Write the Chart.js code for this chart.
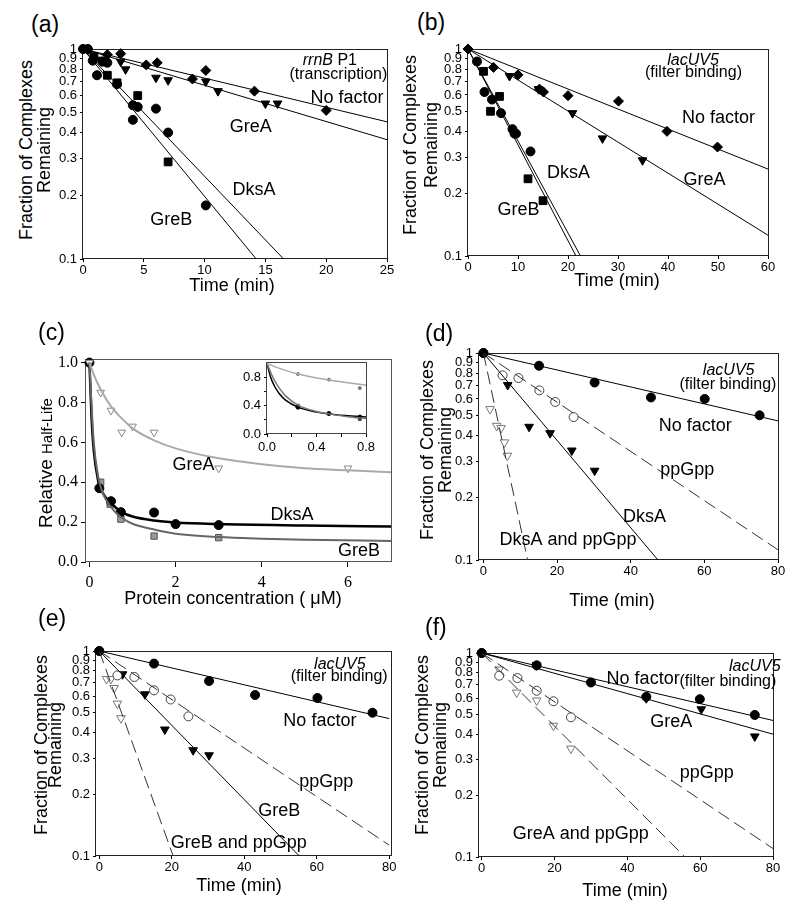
<!DOCTYPE html>
<html>
<head>
<meta charset="utf-8">
<script src="https://cdn.jsdelivr.net/npm/chart.js@4.4.1/dist/chart.umd.min.js"></script>
<style>
  body { margin: 0; background: #fff; width: 800px; height: 909px; position: relative; overflow: hidden;
         font-family: "Liberation Sans", Arial, sans-serif; color: #000; }
  .t { position: absolute; white-space: nowrap; transform: translate(-50%, -50%); font-size: 18px; line-height: 1; }
  .v { transform: translate(-50%, -50%) rotate(-90deg); }
  .lbl { position: absolute; font-size: 23px; transform: translateY(-50%); line-height: 1; }
</style>
</head>
<body>
<script>
const FONT = '"Liberation Sans", Arial, sans-serif';
const SERIF = '"Liberation Serif", "Times New Roman", serif';

// shared tick values
const logTicks = [0.1, 0.2, 0.3, 0.4, 0.5, 0.6, 0.7, 0.8, 0.9, 1];
const timeTicks80 = [0, 20, 40, 60, 80];

// (a) rrnB P1, transcription
const aTimeTicks = [0, 5, 10, 15, 20, 25];
const aNoFactor = [[0, 1], [0.4, 1], [2, 0.94], [3.1, 0.95], [5.2, 0.84], [6.1, 0.86], [9, 0.72], [10.1, 0.79], [14.1, 0.63], [20, 0.51]];
const aGreA = [[1.4, 0.89], [3.1, 0.87], [3.5, 0.8], [6, 0.73], [7, 0.71], [10.1, 0.7], [11.1, 0.63], [15, 0.55], [16, 0.55]];
const aDksA = [[0, 1], [0.4, 1], [0.8, 0.88], [1.15, 0.75], [1.6, 0.87], [2, 0.86], [2.8, 0.68], [4.1, 0.54], [4.1, 0.46], [4.5, 0.53], [6, 0.52], [7, 0.4], [10.1, 0.18]];
const aGreB = [[0.9, 0.92], [2, 0.75], [2.8, 0.69], [4.5, 0.6], [7, 0.29]];
const aFitNoFactor = [[0, 1], [25, 0.45]];
const aFitGreA = [[0, 1], [25, 0.37]];
const aFitDksA = [[0, 1], [16.5, 0.1]];
const aFitGreB = [[0, 1], [14.25, 0.1]];

// (b) lacUV5, filter binding
const bTimeTicks = [0, 10, 20, 30, 40, 50, 60];
const bNoFactor = [[0, 1], [5.1, 0.815], [10, 0.75], [14.3, 0.64], [15.1, 0.62], [20, 0.595], [30.1, 0.56], [39.8, 0.4], [49.9, 0.336]];
const bGreA = [[8.3, 0.74], [14.1, 0.64], [20.9, 0.49], [26.9, 0.37], [34.9, 0.29]];
const bDksA = [[1.8, 0.87], [3.3, 0.62], [4.8, 0.57], [6.6, 0.49], [8.9, 0.41], [9.3, 0.39], [9.6, 0.39], [12.5, 0.32]];
const bGreB = [[3.1, 0.78], [4.5, 0.5], [6.3, 0.59], [12, 0.236], [15, 0.185]];
const bFitNoFactor = [[0, 1], [60, 0.263]];
const bFitGreA = [[0, 1], [60, 0.126]];
const bFitDksA = [[0, 1], [22.5, 0.1]];
const bFitGreB = [[0, 1], [21.6, 0.1]];

// (c) relative half-life vs protein concentration
const cConcTicks = [0, 2, 4, 6];
const cHalfTicks = [0, 0.2, 0.4, 0.6, 0.8, 1.0];
const cGreA = [[0, 1], [0.26, 0.85], [0.5, 0.76], [0.75, 0.65], [1, 0.68], [1.5, 0.65], [3, 0.47], [6, 0.47]];
const cDksA = [[0, 1], [0.23, 0.37], [0.5, 0.305], [0.73, 0.25], [1.5, 0.248], [2, 0.19], [3, 0.185]];
const cGreB = [[0, 1], [0.26, 0.4], [0.48, 0.29], [0.73, 0.215], [1.5, 0.13], [3, 0.122]];
const cCurveGreA = [[0, 1], [0.1, 0.94], [0.25, 0.87], [0.5, 0.78], [0.75, 0.72], [1, 0.67], [1.5, 0.61], [2, 0.57], [3, 0.52], [4, 0.49], [5, 0.47], [6, 0.46], [7, 0.45]];
const cCurveDksA = [[0, 1], [0.05, 0.72], [0.1, 0.56], [0.2, 0.41], [0.3, 0.35], [0.5, 0.295], [0.75, 0.25], [1, 0.228], [1.5, 0.208], [2, 0.198], [3, 0.19], [5, 0.183], [7, 0.178]];
const cCurveGreB = [[0, 1], [0.05, 0.78], [0.1, 0.6], [0.2, 0.43], [0.3, 0.35], [0.5, 0.275], [0.75, 0.222], [1, 0.192], [1.5, 0.163], [2, 0.142], [3, 0.125], [4, 0.117], [5, 0.112], [7, 0.105]];
// inset of (c)
const insetTicks = [0, 0.2, 0.4, 0.6, 0.8];
const insetGreA = [[0.25, 0.85], [0.5, 0.77], [0.75, 0.65]];
const insetDksA = [[0.25, 0.38], [0.5, 0.29], [0.75, 0.24]];
const insetGreB = [[0.25, 0.4], [0.5, 0.29], [0.75, 0.21]];
const insetCurveGreA = [[0, 1], [0.1, 0.93], [0.25, 0.85], [0.5, 0.765], [0.8, 0.69]];
const insetCurveDksA = [[0, 1], [0.03, 0.8], [0.06, 0.68], [0.1, 0.57], [0.15, 0.48], [0.25, 0.38], [0.4, 0.31], [0.5, 0.285], [0.65, 0.26], [0.8, 0.24]];
const insetCurveGreB = [[0, 1], [0.03, 0.87], [0.06, 0.76], [0.1, 0.65], [0.15, 0.54], [0.25, 0.41], [0.4, 0.32], [0.5, 0.285], [0.65, 0.245], [0.8, 0.22]];

// (d) DksA + ppGpp
const dNoFactor = [[0, 1], [15.1, 0.868], [30.2, 0.72], [45.5, 0.61], [60.1, 0.6], [75, 0.5]];
const dPpGpp = [[0, 1], [5.2, 0.78], [9.5, 0.757], [15.2, 0.66], [19.5, 0.58], [24.5, 0.49]];
const dDksA = [[6.6, 0.7], [12.4, 0.44], [18.1, 0.41], [24, 0.338], [30.2, 0.27]];
const dBoth = [[1.8, 0.536], [3.6, 0.445], [4.8, 0.434], [5.7, 0.37], [6.5, 0.319]];
const dFitNoFactor = [[0, 1], [80, 0.47]];
const dFitPpGpp = [[0, 1], [80, 0.112]];
const dFitDksA = [[0, 1], [47.4, 0.1]];
const dFitBoth = [[0, 1], [12, 0.1]];

// (e) GreB + ppGpp
const eNoFactor = [[0, 1], [15.1, 0.868], [30.3, 0.714], [43, 0.61], [60.2, 0.59], [75.4, 0.5]];
const ePpGpp = [[0, 1], [5, 0.76], [9.7, 0.747], [15.1, 0.643], [19.7, 0.58], [24.6, 0.48]];
const eGreB = [[6.4, 0.77], [12.6, 0.615], [18.1, 0.414], [25.9, 0.328], [30.3, 0.31]];
const eBoth = [[2, 0.73], [3.2, 0.73], [4.1, 0.66], [5, 0.554], [6, 0.47]];
const eFitNoFactor = [[0, 1], [80, 0.468]];
const eFitPpGpp = [[0, 1], [80, 0.113]];
const eFitGreB = [[0, 1], [55.2, 0.1]];
const eFitBoth = [[0, 1], [20.4, 0.1]];

// (f) GreA + ppGpp
const fNoFactor = [[0, 1], [15.1, 0.87], [30, 0.717], [45.2, 0.61], [59.9, 0.594], [75, 0.497]];
const fGreA = [[15, 0.87], [45.2, 0.6], [60.3, 0.53], [75, 0.39]];
const fPpGpp = [[0, 1], [4.8, 0.774], [9.8, 0.754], [15.1, 0.653], [19.7, 0.58], [24.5, 0.484]];
const fBoth = [[4.8, 0.83], [9.6, 0.64], [15.1, 0.585], [19.7, 0.44], [24.5, 0.34]];
const fFitNoFactor = [[0, 1], [80, 0.467]];
const fFitGreA = [[0, 1], [80, 0.4]];
const fFitPpGpp = [[0, 1], [80, 0.11]];
const fFitBoth = [[0, 1], [55.8, 0.1]];

const pts = arr => arr.map(([x, y]) => ({ x, y }));

function marks(data, style, r, fill, edge, rot) {
    return { data: pts(data), pointStyle: style, pointRadius: r, pointRotation: rot || 0,
             backgroundColor: fill, borderColor: edge, pointBorderWidth: 1, showLine: false, clip: false };
}
function fit(data, color, width, dash, smooth) {
    return { data: pts(data), showLine: true, borderColor: color, borderWidth: width, borderDash: dash || [],
             pointRadius: 0, fill: false, clip: false, tension: smooth ? 0.4 : 0,
             cubicInterpolationMode: smooth ? 'monotone' : 'default' };
}

// frame round the plot area + text notes placed in data units
const framePlugin = {
    id: 'frame',
    beforeDatasetsDraw(chart, args, o) {
        const { ctx, chartArea: a } = chart;
        ctx.save();
        ctx.strokeStyle = o.color || '#222';
        ctx.lineWidth = 1;
        ctx.strokeRect(Math.round(a.left) - 0.5, Math.round(a.top) + 0.5, Math.round(a.width) + 1, Math.round(a.height) - 1);
        ctx.restore();
    },
    afterDatasetsDraw(chart, args, o) {
        const { ctx, scales } = chart;
        ctx.save();
        ctx.textBaseline = 'middle';
        ctx.textAlign = 'left';
        ctx.fillStyle = '#000';
        (o.notes || []).forEach(n => {
            const px = scales.x.getPixelForValue(n.x), py = scales.y.getPixelForValue(n.y);
            const size = n.size || 18;
            const fonts = n.parts.map(p => (p[1] ? 'italic ' : '') + size + 'px ' + FONT);
            let total = 0;
            const ws = n.parts.map((p, i) => { ctx.font = fonts[i]; const w = ctx.measureText(p[0]).width; total += w; return w; });
            let cx = n.align === 'center' ? px - total / 2 : px;
            n.parts.forEach((p, i) => { ctx.font = fonts[i]; ctx.fillText(p[0], cx, py); cx += ws[i]; });
        });
        ctx.restore();
    }
};

function panel(p) {
    const yW = p.yW || 40, xH = p.xH || 24, pt = 12, pr = 16;
    const [L, T, R, B] = p.box;
    const w = R - L + yW + pr, h = B - T + pt + xH;
    const cv = document.createElement('canvas');
    cv.width = w; cv.height = h;
    cv.style.cssText = `position:absolute;left:${L - yW}px;top:${T - pt}px;width:${w}px;height:${h}px`;
    document.body.appendChild(cv);
    const tickFont = p.tickFont || { family: FONT, size: 13 };
    const axisCommon = {
        border: { display: false },
        grid: { drawOnChartArea: false, drawTicks: true, tickLength: p.tickLen || 3, color: '#000' },
    };
    return new Chart(cv, {
        type: 'scatter',
        data: { datasets: p.datasets },
        plugins: [framePlugin],
        options: {
            responsive: false, animation: false, events: [],
            layout: { padding: { top: pt, right: pr, left: 0, bottom: 0 } },
            plugins: { legend: { display: false }, tooltip: { enabled: false },
                       frame: { color: p.frameColor || '#222', notes: p.notes || [] } },
            scales: {
                x: Object.assign({}, axisCommon, {
                    type: 'linear', min: p.x.min, max: p.x.max,
                    afterBuildTicks: s => { s.ticks = p.x.ticks.map(v => ({ value: v })); },
                    afterFit: s => { s.height = xH; },
                    ticks: { font: tickFont, color: '#000', padding: p.xPad || 1, maxRotation: 0, autoSkip: false,
                             callback: p.x.label || (v => String(v)) }
                }),
                y: Object.assign({}, axisCommon, {
                    type: p.y.log ? 'logarithmic' : 'linear', min: p.y.min, max: p.y.max,
                    afterBuildTicks: s => { s.ticks = p.y.ticks.map(v => ({ value: v })); },
                    afterFit: s => { s.width = yW; },
                    ticks: { font: tickFont, color: '#000', padding: 3, autoSkip: false,
                             callback: p.y.label || (v => String(v)) }
                })
            }
        }
    });
}

function txt(html, x, y, size, vertical) {
    const d = document.createElement('div');
    d.className = 't' + (vertical ? ' v' : '');
    d.style.left = x + 'px'; d.style.top = y + 'px';
    if (size) d.style.fontSize = size + 'px';
    d.innerHTML = html;
    document.body.appendChild(d);
}
function letter(s, x, y) {
    const d = document.createElement('div');
    d.className = 'lbl';
    d.style.left = x + 'px'; d.style.top = y + 'px';
    d.textContent = s;
    document.body.appendChild(d);
}

const logY = { log: true, min: 0.1, max: 1, ticks: logTicks };
const BLK = '#000', GRY = '#777';
const dash = [13, 6];

// ---- (a)
panel({
    box: [83, 49, 387, 259], x: { min: 0, max: 25, ticks: aTimeTicks }, y: logY,
    datasets: [
        fit(aFitNoFactor, BLK, 1), fit(aFitGreA, BLK, 1), fit(aFitDksA, BLK, 1), fit(aFitGreB, BLK, 1),
        marks(aNoFactor, 'rectRot', 5, BLK, BLK),
        marks(aGreA, 'triangle', 5, BLK, BLK, 180),
        marks(aDksA, 'circle', 4.5, BLK, BLK),
        marks(aGreB, 'rect', 5.5, BLK, BLK)
    ],
    notes: [
        { x: 20.3, y: 0.88, parts: [['rrnB', true], [' P1']], size: 16, align: 'center' },
        { x: 21.0, y: 0.755, parts: [['(transcription)']], size: 16, align: 'center' },
        { x: 18.7, y: 0.585, parts: [['No factor']] },
        { x: 12.06, y: 0.424, parts: [['GreA']] },
        { x: 12.3, y: 0.214, parts: [['DksA']] },
        { x: 5.54, y: 0.154, parts: [['GreB']] }
    ]
});
letter('(a)', 31, 24);
txt('Time (min)', 232, 285);
txt('Fraction of Complexes', 26, 150, 18, true);
txt('Remaining', 44, 150, 18, true);

// ---- (b)
panel({
    box: [468, 49, 768, 256], x: { min: 0, max: 60, ticks: bTimeTicks }, y: logY,
    datasets: [
        fit(bFitNoFactor, BLK, 1), fit(bFitGreA, BLK, 1), fit(bFitDksA, BLK, 1), fit(bFitGreB, BLK, 1),
        marks(bNoFactor, 'rectRot', 5, BLK, BLK),
        marks(bGreA, 'triangle', 5, BLK, BLK, 180),
        marks(bDksA, 'circle', 4.5, BLK, BLK),
        marks(bGreB, 'rect', 5.5, BLK, BLK)
    ],
    notes: [
        { x: 45, y: 0.878, parts: [['lacUV5', true]], size: 16, align: 'center' },
        { x: 45.1, y: 0.77, parts: [['(filter binding)']], size: 16, align: 'center' },
        { x: 42.8, y: 0.464, parts: [['No factor']] },
        { x: 43.1, y: 0.233, parts: [['GreA']] },
        { x: 15.8, y: 0.251, parts: [['DksA']] },
        { x: 5.9, y: 0.167, parts: [['GreB']] }
    ]
});
letter('(b)', 417, 22);
txt('Time (min)', 617, 280);
txt('Fraction of Complexes', 410, 145, 18, true);
txt('Remaining', 431, 145, 18, true);

// ---- (c)
const serifTicks = { family: SERIF, size: 16 };
panel({
    box: [86, 358, 391, 562], x: { min: -0.08, max: 7, ticks: cConcTicks },
    y: { min: 0, max: 1.02, ticks: cHalfTicks, label: v => v.toFixed(1) },
    tickFont: serifTicks, tickLen: 5, xPad: 6, xH: 32, frameColor: '#555',
    datasets: [
        fit(cCurveGreA, '#aaa', 2, null, true),
        fit(cCurveGreB, '#666', 2, null, true),
        fit(cCurveDksA, '#000', 2.5, null, true),
        marks(cGreA, 'triangle', 4.5, '#fff', '#888', 180),
        marks(cDksA, 'circle', 4.5, '#000', '#000'),
        marks(cGreB, 'rect', 4.5, '#999', '#555')
    ],
    notes: [
        { x: 1.93, y: 0.484, parts: [['GreA']] },
        { x: 4.2, y: 0.234, parts: [['DksA']] },
        { x: 5.77, y: 0.055, parts: [['GreB']] }
    ]
});
panel({
    box: [267, 362, 366, 434], x: { min: 0, max: 0.8, ticks: insetTicks, label: v => [0, 0.4, 0.8].includes(v) ? v.toFixed(1) : '' },
    y: { min: 0, max: 1.02, ticks: insetTicks, label: v => [0, 0.4, 0.8].includes(v) ? v.toFixed(1) : '' },
    yW: 24, xH: 22, tickLen: 3, xPad: 3, frameColor: '#444',
    datasets: [
        fit(insetCurveGreA, '#aaa', 1.5, null, true),
        fit(insetCurveGreB, '#777', 1.5, null, true),
        fit(insetCurveDksA, '#000', 1.5, null, true),
        marks(insetGreA, 'circle', 1.5, '#777', '#777'),
        marks(insetDksA, 'circle', 2, '#000', '#000'),
        marks(insetGreB, 'rect', 2, '#555', '#555')
    ]
});
letter('(c)', 38, 332);
txt('Protein concentration ( μM)', 233, 598);
txt('<span style="font-size:19px">Relative </span><span style="font-size:15px">Half-Life</span>', 45, 463, null, true);

// ---- (d)
panel({
    box: [479, 353, 778, 560], x: { min: -1.2, max: 80, ticks: timeTicks80 }, y: logY,
    datasets: [
        fit(dFitNoFactor, BLK, 1), fit(dFitPpGpp, '#333', 1, dash), fit(dFitDksA, BLK, 1), fit(dFitBoth, '#333', 1, dash),
        marks(dNoFactor, 'circle', 4.5, BLK, BLK),
        marks(dPpGpp, 'circle', 4.5, '#fff', '#444'),
        marks(dDksA, 'triangle', 5, BLK, BLK, 180),
        marks(dBoth, 'triangle', 5, '#fff', GRY, 180)
    ],
    notes: [
        { x: 66.6, y: 0.824, parts: [['lacUV5', true]], size: 16, align: 'center' },
        { x: 66.4, y: 0.703, parts: [['(filter binding)']], size: 16, align: 'center' },
        { x: 47.6, y: 0.445, parts: [['No factor']] },
        { x: 48.0, y: 0.272, parts: [['ppGpp']] },
        { x: 37.9, y: 0.162, parts: [['DksA']] },
        { x: 4.35, y: 0.125, parts: [['DksA and ppGpp']] }
    ]
});
letter('(d)', 425, 333);
txt('Time (min)', 612, 600);
txt('Fraction of Complexes', 427, 450, 18, true);
txt('Remaining', 445, 450, 18, true);

// ---- (e)
panel({
    box: [96, 651, 391, 856], x: { min: -0.9, max: 80.5, ticks: timeTicks80 }, y: logY,
    datasets: [
        fit(eFitNoFactor, BLK, 1), fit(eFitPpGpp, '#333', 1, dash), fit(eFitGreB, BLK, 1), fit(eFitBoth, '#333', 1, dash),
        marks(eNoFactor, 'circle', 4.5, BLK, BLK),
        marks(ePpGpp, 'circle', 4.5, '#fff', '#444'),
        marks(eGreB, 'triangle', 5, BLK, BLK, 180),
        marks(eBoth, 'triangle', 5, '#fff', GRY, 180)
    ],
    notes: [
        { x: 66.4, y: 0.861, parts: [['lacUV5', true]], size: 16, align: 'center' },
        { x: 66.2, y: 0.747, parts: [['(filter binding)']], size: 16, align: 'center' },
        { x: 50.8, y: 0.454, parts: [['No factor']] },
        { x: 55.2, y: 0.23, parts: [['ppGpp']] },
        { x: 43.9, y: 0.166, parts: [['GreB']] },
        { x: 19.7, y: 0.116, parts: [['GreB and ppGpp']] }
    ]
});
letter('(e)', 38, 618);
txt('Time (min)', 239, 885);
txt('Fraction of Complexes', 41, 745, 18, true);
txt('Remaining', 55, 745, 18, true);

// ---- (f)
panel({
    box: [479, 653, 773, 857], x: { min: -0.75, max: 80, ticks: timeTicks80 }, y: logY,
    datasets: [
        fit(fFitNoFactor, BLK, 1), fit(fFitGreA, BLK, 1), fit(fFitPpGpp, '#333', 1, dash), fit(fFitBoth, '#333', 1, dash),
        marks(fNoFactor, 'circle', 4.5, BLK, BLK),
        marks(fGreA, 'triangle', 5, BLK, BLK, 180),
        marks(fPpGpp, 'circle', 4.5, '#fff', '#444'),
        marks(fBoth, 'triangle', 5, '#fff', GRY, 180)
    ],
    notes: [
        { x: 75, y: 0.86, parts: [['lacUV5', true]], size: 16, align: 'center' },
        { x: 67.6, y: 0.726, parts: [['(filter binding)']], size: 16, align: 'center' },
        { x: 34.3, y: 0.745, parts: [['No factor']] },
        { x: 46.3, y: 0.461, parts: [['GreA']] },
        { x: 54.4, y: 0.257, parts: [['ppGpp']] },
        { x: 8.5, y: 0.13, parts: [['GreA and ppGpp']] }
    ]
});
letter('(f)', 425, 627);
txt('Time (min)', 625, 890);
txt('Fraction of Complexes', 422, 745, 18, true);
txt('Remaining', 440, 745, 18, true);
</script>
</body>
</html>
